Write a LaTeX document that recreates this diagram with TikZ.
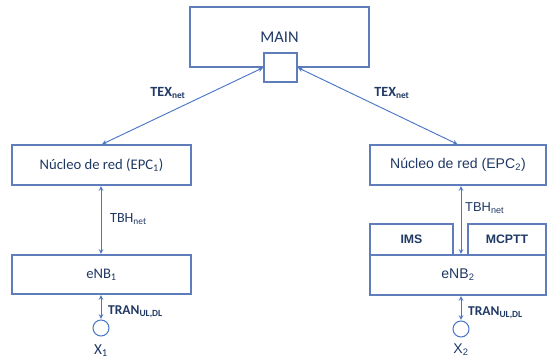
\documentclass[tikz,border=0pt]{standalone}
\usepackage{fontspec}
\setmainfont{Carlito}
\newfontfamily\arialfont{Liberation Sans}
\usetikzlibrary{
		calc,
		positioning
	}
\definecolor{boxline}{HTML}{5F7DBA}
\definecolor{linkline}{HTML}{4A76C6}
\definecolor{navy}{HTML}{1F3864}
\tikzset{
		>=stealth,
		box/.style={draw=boxline, line width=0.9pt, inner sep=0pt, text=navy},
		link/.style={draw=linkline, line width=0.8pt, <->, shorten <=0.5pt, shorten >=0.5pt},
		lbl/.style={text=navy, inner sep=0pt, font=\fontsize{12}{14}\selectfont},
		ue/.style={draw=linkline, line width=0.9pt, circle, minimum size=0.48cm, inner sep=0pt}
	}

\begin{document}
\begin{tikzpicture}[x=0.03cm, y=-0.03cm]
\useasboundingbox (0,0) rectangle (547,360);
% central node with its port
\node[box, minimum width=5.37cm, minimum height=1.8cm, font=\fontsize{14}{16}\selectfont] (main) at (279.5,37) {MAIN};
\node[box, fill=white, minimum width=0.99cm, minimum height=0.87cm] (port) at (280.5,67.5) {};

% left branch
\node[box, minimum width=5.37cm, minimum height=1.2cm, font=\fontsize{12.5}{14}\selectfont] (epc1) at (101.5,165) {Núcleo de red (EPC\textsubscript{1})};
\node[box, minimum width=5.37cm, minimum height=1.17cm, font=\fontsize{12.5}{14}\selectfont] (enb1) at (101.5,274.5) {eNB\textsubscript{1}};
\node[ue] (ue1) at (101,328) {};
\node[lbl, font=\fontsize{13}{14}\selectfont] (x1) at (101,351) {X\textsubscript{1}};

% right branch
\node[box, minimum width=5.28cm, minimum height=1.2cm, font=\arialfont\fontsize{12}{14}\selectfont] (epc2) at (458,165) {Núcleo de red (EPC\textsubscript{2})};
\node[box, minimum width=2.49cm, minimum height=0.93cm, font=\arialfont\bfseries\fontsize{10.5}{12}\selectfont] (ims) at (411.5,239.5) {IMS};
\node[box, minimum width=2.34cm, minimum height=0.93cm, font=\arialfont\bfseries\fontsize{10.5}{12}\selectfont] (mcptt) at (507,239.5) {MCPTT};
\node[box, minimum width=5.28cm, minimum height=1.2cm, font=\arialfont\fontsize{12}{14}\selectfont] (enb2) at (458,275) {eNB\textsubscript{2}};
\node[ue] (ue2) at (461,329) {};
\node[lbl, font=\arialfont\fontsize{12}{14}\selectfont] (x2) at (461,350) {X\textsubscript{2}};

% links
\draw[link] (port.west) -- (epc1.north);
\draw[link] (port.east) -- (epc2.north);
\draw[link] (epc1.south -| ue1) -- (enb1.north -| ue1);
\draw[link] (epc2.south -| ue2) -- (enb2.north -| ue2);
\draw[link] (enb1.south -| ue1) -- (ue1.north);
\draw[link] (enb2.south -| ue2) -- (ue2.north);

% link labels
\node[lbl, font=\bfseries\fontsize{12}{14}\selectfont] (tex1) at (168,93) {TEX\textsubscript{net}};
\node[lbl, font=\bfseries\fontsize{12}{14}\selectfont] (tex2) at (392,93) {TEX\textsubscript{net}};
\node[lbl, anchor=west] (tbh1) at (110,219) {TBH\textsubscript{net}};
\node[lbl, anchor=west, font=\arialfont\fontsize{11}{14}\selectfont] (tbh2) at (465,208) {TBH\textsubscript{net}};
\node[lbl, anchor=west, font=\bfseries\fontsize{11.5}{14}\selectfont] (tran1) at (108,312) {TRAN\textsubscript{UL,DL}};
\node[lbl, anchor=west, font=\bfseries\fontsize{11.5}{14}\selectfont] (tran2) at (468,313) {TRAN\textsubscript{UL,DL}};
\end{tikzpicture}
\end{document}
